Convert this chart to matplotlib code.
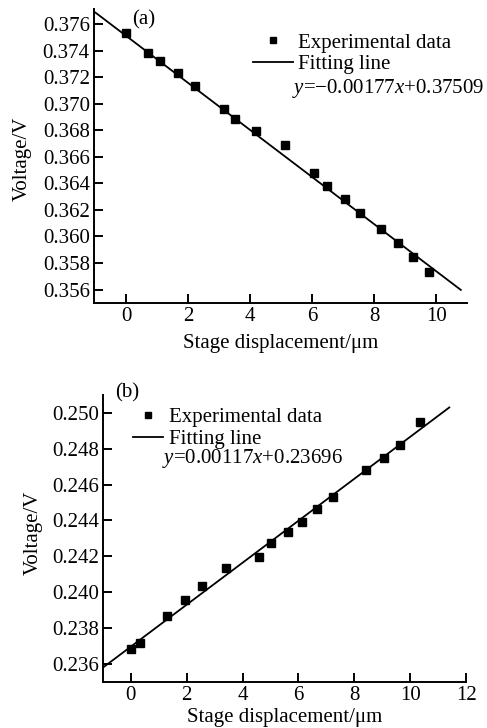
import numpy as np
import matplotlib
matplotlib.use("Agg")
import matplotlib.pyplot as plt

# panel (a)
xa = [0.0, 0.69, 1.08, 1.65, 2.21, 3.14, 3.50, 4.17, 5.13, 6.07, 6.49, 7.07, 7.54, 8.21, 8.76, 9.27, 9.78]
ya = [0.37530, 0.37379, 0.37323, 0.37232, 0.37131, 0.36958, 0.36884, 0.36791, 0.36688,
      0.36476, 0.36378, 0.36285, 0.36177, 0.36053, 0.35953, 0.35849, 0.35731]
fit_a = (-0.00177, 0.37509)
fit_a_x = [-1.0, 10.8]

# panel (b)
xb = [0.0, 0.32, 1.29, 1.94, 2.56, 3.40, 4.57, 5.02, 5.63, 6.11, 6.65, 7.24, 8.43, 9.07, 9.65, 10.34]
yb = [0.23682, 0.23715, 0.23865, 0.23953, 0.24033, 0.24132, 0.24193, 0.24272, 0.24334,
      0.24393, 0.24462, 0.24533, 0.24682, 0.24749, 0.24822, 0.24949]
fit_b = (0.00117, 0.23696)
fit_b_x = [-1.0, 11.4]

plt.rcParams['font.family'] = ['Liberation Serif', 'DejaVu Serif']
plt.rcParams['font.size'] = 15
plt.rcParams['mathtext.fontset'] = 'custom'
plt.rcParams['mathtext.rm'] = 'Liberation Serif'
plt.rcParams['mathtext.it'] = 'Liberation Serif:italic'

fig = plt.figure(figsize=(4.87, 7.28), dpi=100)
ax1 = fig.add_axes([0.193, 0.584, 0.766, 0.403])
ax2 = fig.add_axes([0.2115, 0.0636, 0.7455, 0.394])


def style(ax):
    for s in ['top', 'right']:
        ax.spines[s].set_visible(False)
    for s in ['left', 'bottom']:
        ax.spines[s].set_linewidth(1.4)
    ax.tick_params(direction='in', length=6.5, width=1.4, pad=3, labelsize=15)


# (a)
fx = np.array(fit_a_x)
ax1.plot(xa, ya, 's', color='black', markersize=5.5, label='Experimental data')
ax1.plot(fx, fit_a[0] * fx + fit_a[1], '-', color='black', linewidth=1.3, label='Fitting line')
ax1.set_xlim(-1.05, 11)
ax1.set_ylim(0.355, 0.3771)
ax1.set_xticks([0, 2, 4, 6, 8, 10])
ax1.set_yticks(np.arange(0.356, 0.3765, 0.002))
ax1.yaxis.set_major_formatter(matplotlib.ticker.FormatStrFormatter('%.3f'))
style(ax1)
ax1.set_xlabel('Stage displacement/\u03bcm', fontsize=15, labelpad=6)
ax1.set_ylabel('Voltage/V', fontsize=15)
ax1.yaxis.set_label_coords(-0.166, 0.49)
ax1.legend(loc='upper left', bbox_to_anchor=(0.427, 0.92), frameon=False, fontsize=15,
           handlelength=1.9, handletextpad=0.25, labelspacing=0.1, borderpad=0,
           borderaxespad=0, markerscale=0.9)
ax1.text(0.532, 0.73, '$y$=\u22120.00177$x$+0.37509', transform=ax1.transAxes,
         fontsize=15, va='center', ha='left')
ax1.text(0.102, 0.964, '(a)', transform=ax1.transAxes, fontsize=15, va='center', ha='left')

# (b)
fx = np.array(fit_b_x)
ax2.plot(xb, yb, 's', color='black', markersize=5.5, label='Experimental data')
ax2.plot(fx, fit_b[0] * fx + fit_b[1], '-', color='black', linewidth=1.3, label='Fitting line')
ax2.set_xlim(-1, 12)
ax2.set_ylim(0.235, 0.251)
ax2.set_xticks([0, 2, 4, 6, 8, 10, 12])
ax2.set_yticks(np.arange(0.236, 0.2505, 0.002))
ax2.yaxis.set_major_formatter(matplotlib.ticker.FormatStrFormatter('%.3f'))
style(ax2)
ax2.set_xlabel('Stage displacement/\u03bcm', fontsize=15, labelpad=2)
ax2.set_ylabel('Voltage/V', fontsize=15)
ax2.yaxis.set_label_coords(-0.165, 0.52)
ax2.legend(loc='upper left', bbox_to_anchor=(0.083, 0.955), frameon=False, fontsize=15,
           handlelength=1.45, handletextpad=0.25, labelspacing=0.1, borderpad=0,
           borderaxespad=0, markerscale=0.8)
ax2.text(0.1625, 0.777, '$y$=0.00117$x$+0.23696', transform=ax2.transAxes,
         fontsize=15, va='center', ha='left')
ax2.text(0.033, 1.007, '(b)', transform=ax2.transAxes, fontsize=15, va='center', ha='left')

fig.savefig('out.png', dpi=100)
